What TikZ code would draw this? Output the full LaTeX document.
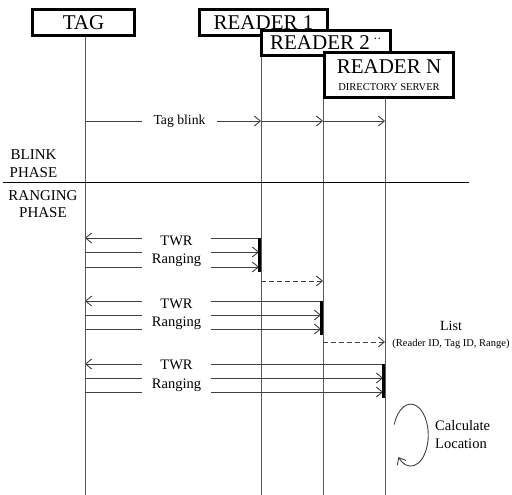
\documentclass[tikz,border=0pt]{standalone}
\usepackage{fontspec}
\setmainfont{Liberation Serif}
\usetikzlibrary{arrows.meta}
\begin{document}
\begin{tikzpicture}[x=1pt,y=-1pt,
 box/.style={draw,line width=2.6pt,fill=white,inner sep=0pt,align=center,font=\fontsize{21}{22}\selectfont},
 life/.style={line width=0.9pt,black!65},
 tip/.style={-{Straight Barb[length=6pt,width=10pt,line width=0.9pt]}},
 msg/.style={line width=0.9pt,black!75,tip},
 plain/.style={line width=0.9pt,black!75},
 dmsg/.style={msg,dash pattern=on 5pt off 3pt},
 lbl/.style={fill=white,inner sep=0pt,align=center,font=\fontsize{14.5}{18.5}\selectfont},
 act/.style={line width=3pt,black},
 phase/.style={align=center,inner sep=0pt,font=\fontsize{15}{17.5}\selectfont}]
\useasboundingbox (0,0) rectangle (512,495);
% lifeline positions
\coordinate (tagx) at (85,0);
\coordinate (r1x) at (261,0);
\coordinate (r2x) at (323,0);
\coordinate (rnx) at (385,0);
\coordinate (bot) at (0,495);
\draw[life] (tagx |- 0,37) -- (tagx |- bot);
\draw[life] (r1x |- 0,37) -- (r1x |- bot);
\draw[life] (r2x |- 0,57) -- (r2x |- bot);
\draw[life] (rnx |- 0,99) -- (rnx |- bot);
% header boxes
\node[box,minimum width=102pt,minimum height=26pt] (tag) at (83.5,22.5) {TAG};
\node[box,minimum width=128pt,minimum height=26pt] (r1) at (263.5,22.5) {READER 1};
\node[box,minimum width=129pt,minimum height=25pt] (r2) at (326,43) {READER 2\,$^{\cdot\cdot}$};
\node[box,minimum width=129pt,minimum height=45pt] (rn) at (389,75) {READER N\\[-5pt]{\fontsize{10.5}{12}\selectfont DIRECTORY SERVER}};
% tag blink
\draw[msg] (tagx |- 0,121) -- (r1x |- 0,121);
\node[lbl,font=\fontsize{13.7}{16}\selectfont,minimum width=75pt,minimum height=14pt] (blink) at (179.5,121) {Tag blink};
\draw[msg] (r1x |- 0,121) -- (r2x |- 0,121);
\draw[msg] (r2x |- 0,121) -- (rnx |- 0,121);
% phase separator
\coordinate (sepL) at (3,182);
\coordinate (sepR) at (469,182);
\draw[line width=0.9pt] (sepL) -- (sepR);
\node[phase] (blinkphase) at (33.5,163.5) {BLINK\\PHASE};
\node[phase] (rangphase) at (43,204) {RANGING\\PHASE};
% group 1
\draw[msg] (259,238) -- (tagx |- 0,238);
\draw[msg] (tagx |- 0,252) -- (259,252);
\draw[msg] (tagx |- 0,267) -- (259,267);
\node[lbl,minimum width=69pt,minimum height=40pt] (twr1) at (176.5,251.5) {TWR\\Ranging};
\draw[act] (259.5,238) -- (259.5,272);
\draw[dmsg] (r1x |- 0,281) -- (r2x |- 0,281);
% group 2
\draw[msg] (321,301) -- (tagx |- 0,301);
\draw[msg] (tagx |- 0,315) -- (321,315);
\draw[msg] (tagx |- 0,329) -- (321,329);
\node[lbl,minimum width=69pt,minimum height=40pt] (twr2) at (176.5,314.5) {TWR\\Ranging};
\draw[act] (321.5,301) -- (321.5,335);
\draw[dmsg] (r2x |- 0,342) -- (rnx |- 0,342);
\node[align=center,inner sep=0pt,font=\fontsize{14}{16}\selectfont] (list) at (451,335) {List\\{\fontsize{10.5}{12}\selectfont (Reader ID, Tag ID, Range)}};
% group 3
\draw[msg] (383,364) -- (tagx |- 0,364);
\draw[msg] (tagx |- 0,378) -- (383,378);
\draw[msg] (tagx |- 0,392) -- (383,392);
\node[lbl,minimum width=69pt,minimum height=40pt] (twr3) at (176.5,376) {TWR\\Ranging};
\draw[act] (383.5,364) -- (383.5,398);
% self loop
\draw[plain,tip] (394.3,424.5) arc[start angle=200,end angle=495,x radius=17.5,y radius=31];
\node[align=left,anchor=west,inner sep=0pt,font=\fontsize{14.5}{18}\selectfont] (calc) at (435,435) {Calculate\\Location};
\end{tikzpicture}
\end{document}
